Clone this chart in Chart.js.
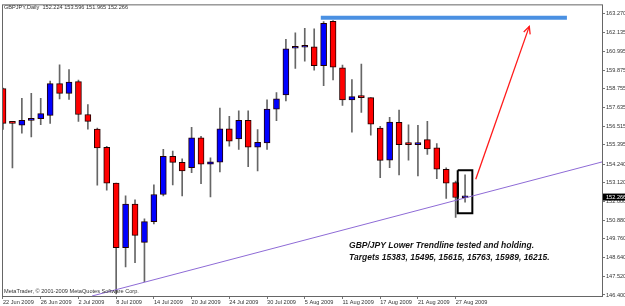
<!DOCTYPE html>
<html>
<head>
<meta charset="utf-8">
<script src="https://cdn.jsdelivr.net/npm/chart.js@4.4.0/dist/chart.umd.min.js"></script>
<style>
html, body { margin: 0; padding: 0; background: #fff; }
</style>
</head>
<body>
<canvas id="fx" width="625" height="306"></canvas>
<script>
// GBPJPY Daily - candles Jun 22 -> Aug 28 2009

const dates = ['22 Jun 2009','23 Jun 2009','24 Jun 2009','25 Jun 2009','26 Jun 2009','29 Jun 2009','30 Jun 2009','1 Jul 2009','2 Jul 2009','3 Jul 2009',
  '6 Jul 2009','7 Jul 2009','8 Jul 2009','9 Jul 2009','10 Jul 2009','13 Jul 2009','14 Jul 2009','15 Jul 2009','16 Jul 2009','17 Jul 2009',
  '20 Jul 2009','21 Jul 2009','22 Jul 2009','23 Jul 2009','24 Jul 2009','27 Jul 2009','28 Jul 2009','29 Jul 2009','30 Jul 2009','31 Jul 2009',
  '3 Aug 2009','4 Aug 2009','5 Aug 2009','6 Aug 2009','7 Aug 2009','10 Aug 2009','11 Aug 2009','12 Aug 2009','13 Aug 2009','14 Aug 2009',
  '17 Aug 2009','18 Aug 2009','19 Aug 2009','20 Aug 2009','21 Aug 2009','24 Aug 2009','25 Aug 2009','26 Aug 2009','27 Aug 2009','28 Aug 2009'];

const opens  = [158.76,156.70,156.58,156.86,156.96,157.16,159.06,158.48,159.18,157.21,
  156.34,155.24,153.10,149.23,151.85,149.55,150.80,152.42,154.70,154.34,
  154.02,155.81,154.23,154.36,156.36,155.75,156.86,155.25,155.51,157.53,
  158.39,161.18,161.24,161.26,160.13,162.80,160.01,158.09,158.24,158.22,
  156.40,154.48,156.74,155.42,155.41,155.71,155.21,153.93,153.13,152.224];
const highs  = [158.80,156.80,158.18,158.48,158.18,159.22,160.19,159.91,159.28,157.81,
  156.40,155.31,153.10,152.34,152.10,150.96,153.00,155.12,155.02,154.56,
  156.44,155.91,154.62,157.59,157.10,157.43,157.43,156.31,158.09,158.52,
  161.71,162.10,162.38,162.34,162.78,162.84,160.17,159.31,160.24,158.22,
  156.50,157.04,157.47,156.60,156.56,156.80,155.47,154.02,153.23,153.596];
const lows   = [156.32,154.01,156.09,155.87,156.60,156.68,158.15,158.11,156.80,156.34,
  152.98,152.68,146.46,148.08,148.34,147.20,150.66,152.34,153.00,152.34,
  153.73,153.07,152.28,153.77,155.31,155.12,154.08,153.83,155.12,156.84,
  158.03,159.97,160.41,159.87,158.94,159.28,157.75,156.16,157.33,155.97,
  153.43,154.02,153.59,154.48,153.53,154.82,153.37,152.18,151.05,151.965];
const closes = [156.68,156.68,156.86,156.96,157.26,159.06,158.48,159.16,157.21,156.80,
  155.21,153.10,149.23,151.85,149.97,150.80,152.42,154.70,154.34,153.83,
  155.81,154.23,154.38,156.36,155.61,156.86,155.25,155.55,157.53,158.15,
  161.15,161.20,161.26,160.13,162.68,160.05,158.09,158.28,158.22,156.64,
  154.46,156.76,155.41,155.41,155.42,155.15,153.93,153.10,152.24,152.266];

// price axis labels as MetaTrader prints them
const priceTicks = [163.270,162.135,160.995,159.875,158.755,157.635,156.515,155.395,
  154.240,153.120,152.000,150.880,149.760,148.640,147.520,146.400];
// a date label every 4th bar
const dateTickIdx = [0,4,8,12,16,20,24,28,32,36,40,44,48];

// drawn objects (bar index, price)
const trendX = [9.44, 63.52];
const trendY = [146.34, 154.37];
const resistX = [33.7, 59.8];
const resistY = [163.01, 163.01];
const arrowX = [50.13, 55.81];
const arrowY = [153.33, 162.49];
const arrowHeadX = [55.22, 55.81, 55.90];
const arrowHeadY = [162.15, 162.49, 162.01];
const boxX = [48.22, 49.77, 49.77, 48.22, 48.22];
const boxY = [153.87, 153.87, 151.29, 151.29, 153.87];

const noteLines = ['GBP/JPY Lower Trendline tested and holding.',
  'Targets 15383, 15495, 15615, 15763, 15989, 16215.'];
const noteX = 36.7;
const noteY = [149.37, 148.66];

const pts = (xs, ys) => xs.map((v, i) => ({ x: v, y: ys[i] }));

const bodyData = opens.map((o, i) => ({ x: i, y: [o, closes[i]] }));
const wickData = lows.map((l, i) => ({ x: i, y: [l, highs[i]] }));
const bodyColors = opens.map((o, i) => closes[i] >= o ? '#0000ff' : '#ff0000');

const small = { family: '"Liberation Sans", Arial, sans-serif', size: 5.6 };

const overlay = {
    id: 'overlay',
    afterDraw(chart) {
        const { ctx, chartArea: a, scales: { x, y } } = chart;
        ctx.save();
        // frame
        ctx.strokeStyle = '#666';
        ctx.lineWidth = 1;
        ctx.strokeRect(a.left + 0.5, a.top + 0.5, a.right - a.left, a.bottom - a.top);

        // header + watermark
        ctx.fillStyle = '#333';
        ctx.font = '5.6px "Liberation Sans", Arial, sans-serif';
        ctx.textBaseline = 'middle';
        ctx.fillText('GBPJPY,Daily  152.224 153.596 151.965 152.266', 4, 7);
        ctx.fillText('MetaTrader, \u00A9 2001-2009 MetaQuotes Software Corp.', 4, 291);

        // current price marker
        const last = closes[closes.length - 1];
        const py = y.getPixelForValue(last);
        ctx.fillStyle = '#000';
        ctx.fillRect(a.right + 1, py - 3.5, 625 - a.right, 7);
        ctx.fillStyle = '#fff';
        ctx.fillText(last.toFixed(3), a.right + 4, py);

        // note text
        ctx.fillStyle = '#111';
        ctx.font = 'italic bold 8.5px "Liberation Sans", Arial, sans-serif';
        noteLines.forEach((t, i) => {
            ctx.fillText(t, x.getPixelForValue(noteX), y.getPixelForValue(noteY[i]));
        });
        ctx.restore();
    }
};

new Chart(document.getElementById('fx'), {
    type: 'bar',
    data: {
        datasets: [
            {
                type: 'line', data: pts(trendX, trendY), borderColor: '#8e6bd6',
                borderWidth: 1, pointRadius: 0, order: 0
            },
            {
                type: 'line', data: pts(resistX, resistY), borderColor: '#4a90e2',
                borderWidth: 4, pointRadius: 0, order: 0
            },
            {
                type: 'line', data: pts(arrowX, arrowY), borderColor: '#ff1a1a',
                borderWidth: 1.3, pointRadius: 0, order: 0
            },
            {
                type: 'line', data: pts(arrowHeadX, arrowHeadY), borderColor: '#ff1a1a',
                borderWidth: 1.3, pointRadius: 0, order: 0
            },
            {
                type: 'line', data: pts(boxX, boxY), borderColor: '#000',
                borderWidth: 2, pointRadius: 0, order: 0
            },
            {
                label: 'body', data: bodyData, backgroundColor: bodyColors,
                borderColor: '#200', borderWidth: 1, borderSkipped: false,
                barThickness: 6, grouped: false, minBarLength: 2, order: 1
            },
            {
                label: 'wick', data: wickData, backgroundColor: '#666',
                barThickness: 1, grouped: false, order: 2
            }
        ]
    },
    options: {
        responsive: false,
        animation: false,
        events: [],
        layout: { padding: { left: 2, top: 2, right: 0, bottom: 0 } },
        plugins: { legend: { display: false }, tooltip: { enabled: false } },
        scales: {
            x: {
                type: 'linear',
                offset: false,
                min: -0.106,
                max: 63.52,
                afterBuildTicks: s => { s.ticks = dateTickIdx.map(v => ({ value: v })); },
                afterFit: s => { s.height = 10; },
                ticks: {
                    autoSkip: false, maxRotation: 0, align: 'start', padding: 0,
                    color: '#333', font: small,
                    callback: v => dates[v]
                },
                grid: { drawOnChartArea: false, drawTicks: true, tickLength: 3, color: '#777', offset: false },
                border: { display: false }
            },
            y: {
                position: 'right',
                min: 146.34,
                max: 163.81,
                afterBuildTicks: s => { s.ticks = priceTicks.map(v => ({ value: v })); },
                afterFit: s => { s.width = 23; },
                ticks: {
                    padding: 1, color: '#333', font: small,
                    callback: v => v.toFixed(3)
                },
                grid: { drawOnChartArea: false, drawTicks: true, tickLength: 3, color: '#777' },
                border: { display: false }
            }
        }
    },
    plugins: [overlay]
});
</script>
</body>
</html>
